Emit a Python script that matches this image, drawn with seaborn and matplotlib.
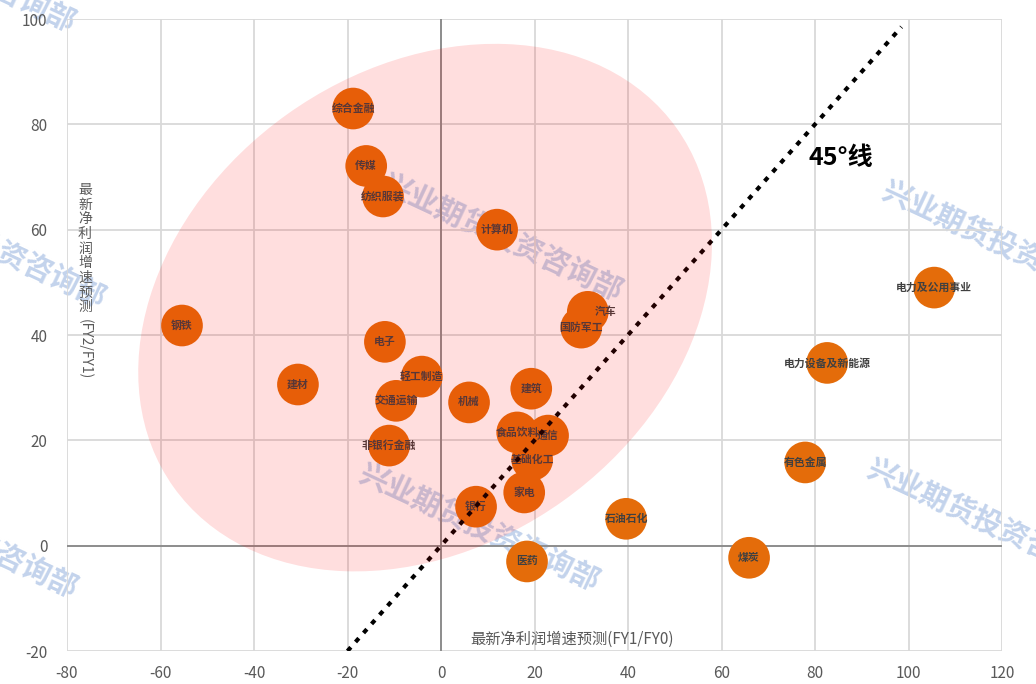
import numpy as np
import pandas as pd
import matplotlib
matplotlib.use("Agg")
import matplotlib.pyplot as plt
import seaborn as sns
from matplotlib.patches import Ellipse
from matplotlib.transforms import Affine2D

# ---- data ----
industries = ["综合金融", "传媒", "纺织服装", "计算机", "钢铁", "汽车", "国防军工", "电子",
              "建材", "轻工制造", "交通运输", "机械", "建筑", "食品饮料", "通信", "基础化工",
              "非银行金融", "家电", "银行", "石油石化", "医药", "煤炭", "有色金属",
              "电力设备及新能源", "电力及公用事业"]
fy1_growth = [-18.8, -16.0, -12.4, 12.0, -55.4, 31.4, 30.0, -12.0,
              -30.6, -4.1, -9.6, 6.0, 19.3, 16.3, 22.9, 19.5,
              -11.1, 17.8, 7.5, 39.6, 18.4, 65.9, 77.9,
              82.6, 105.5]
fy2_growth = [83.0, 72.1, 66.3, 60.0, 41.8, 44.4, 41.4, 38.7,
              30.6, 32.1, 27.5, 27.2, 29.8, 21.5, 20.9, 16.3,
              19.0, 10.1, 7.4, 5.1, -3.0, -2.3, 15.8,
              34.7, 49.0]
x_ticks = [-80, -60, -40, -20, 0, 20, 40, 60, 80, 100, 120]
y_ticks = [-20, 0, 20, 40, 60, 80, 100]
line_45 = [-20, 98.5]

df = pd.DataFrame({"industry": industries, "x": fy1_growth, "y": fy2_growth})

sns.set_theme(style="white")
plt.rcParams["font.family"] = ["Noto Sans CJK SC", "DejaVu Sans"]
plt.rcParams["axes.unicode_minus"] = False

W, H = 1036, 684
fig = plt.figure(figsize=(W / 100, H / 100), dpi=100)
fig.patch.set_facecolor("white")
ax = fig.add_axes([67 / W, 1 - 651 / H, 935 / W, 632 / H])
ax.set_facecolor("none")
ax.set_xlim(x_ticks[0], x_ticks[-1])
ax.set_ylim(y_ticks[0], y_ticks[-1])
ax.set_xticks(x_ticks)
ax.set_yticks(y_ticks)
ax.grid(True, color="#D9D9D9", lw=1.3)
ax.set_axisbelow(True)
for s in ax.spines.values():
    s.set_visible(False)
ax.tick_params(axis="both", length=0, labelsize=11, labelcolor="#595959")
ax.tick_params(axis="y", pad=14)
ax.tick_params(axis="x", pad=10)
ax.axhline(0, color="#808080", lw=1.2, zorder=1.5)
ax.axvline(0, color="#808080", lw=1.2, zorder=1.5)

# bubbles
sns.scatterplot(data=df, x="x", y="y", s=900, color="#E46C0A", edgecolor="none",
                linewidth=0, ax=ax, zorder=3, legend=False)
ax.set_xlabel("")
ax.set_ylabel("")

# px per data unit
ppx = 935 / (x_ticks[-1] - x_ticks[0])
ppy = 632 / (y_ticks[-1] - y_ticks[0])

label_dx = {"汽车": 18}
for name, xv, yv in zip(industries, fy1_growth, fy2_growth):
    ax.text(xv + label_dx.get(name, 0) / ppx, yv, name, ha="center", va="center",
            fontsize=7.8, fontweight="bold", color="#404040", zorder=4)

# 45 degree line
ax.plot(line_45, line_45, color="black", lw=3, linestyle=(0, (1.2, 1.7)),
        dash_capstyle="butt", zorder=5)
ax.text(85.6, 73.6, "45°线", fontsize=18, fontweight="bold", color="black",
        ha="center", va="center", zorder=7)

# pink ellipse (defined in pixel units, then mapped to data)
ell = Ellipse((0, 0), 618, 475, angle=35.5, facecolor=(1, 0, 0, 0.13),
              edgecolor="none", zorder=6,
              transform=Affine2D().scale(1 / ppx, 1 / ppy).translate(-3.4, 45.2) + ax.transData)
ax.add_patch(ell)

# axis titles
ax.text(28.0, -17.7, "最新净利润增速预测(FY1/FY0)", ha="center", va="center",
        fontsize=11, color="#595959", zorder=7)
fig.text(85 / W, 1 - 183 / H, "\n".join("最新净利润增速预测"), ha="center", va="top",
         fontsize=10, color="#595959", linespacing=1.06)
fig.text(85 / W, 1 - 319 / H, "(FY2/FY1)", ha="center", va="top", rotation=270,
         fontsize=10, color="#595959")

# watermarks
wm_centers = [(-15, 244), (502, 237), (1002, 244), (-43, 534), (479, 527), (987, 522), (-45, -32)]
for cx, cy in wm_centers:
    fig.text(cx / W, 1 - cy / H, "兴业期货投资咨询部", rotation=-25, rotation_mode="anchor",
             ha="center", va="center", fontsize=21, fontweight="bold",
             color="#C3D3EC", zorder=-1)

fig.savefig("out.png", dpi=100)
